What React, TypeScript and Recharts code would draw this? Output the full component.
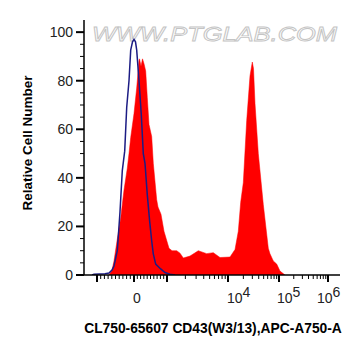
import React from "react";
import { ComposedChart, Area, Line, XAxis, YAxis } from "recharts";

// Red filled histogram: sample (CD43 stained), x in display channels, y = % of max
const sampleChannel = [25, 28, 30, 33, 36.7, 40, 43.3, 45, 46.7, 50, 52.7, 55, 55.5, 57, 58.5, 60, 61.7, 63.3, 65, 67.7, 69.3, 72.7, 74, 77, 80, 85, 88, 92.7, 96, 99.3, 106, 114.3, 122.7, 129.3, 136, 146, 151, 154.3, 156.7, 159.3, 162.7, 166, 168.3, 169.5, 171, 174.3, 179.3, 184.3, 186, 189.3, 192.7, 196, 201];
const sampleCount = [0, 2, 5.8, 14, 23.5, 35, 44, 50, 56.6, 66.5, 77, 88.4, 89, 86, 89, 87, 84, 73, 62, 57, 46, 31, 28, 25, 18, 11, 10, 10, 9, 7, 7.8, 10, 8.8, 9.2, 7.2, 7.4, 10.5, 18, 30, 38, 63.6, 82, 87.7, 85, 70.6, 50, 29, 11, 8.7, 5.8, 4.5, 1.6, 0];

// Blue line: isotype / unstained control
const controlChannel = [8, 10, 21, 25, 28, 30, 33.3, 36, 38.3, 40.7, 42.7, 45, 46.7, 48.5, 50, 51.5, 52.7, 55, 57.3, 59.3, 61, 63.3, 65.7, 67.7, 69.3, 71.7, 76.7, 81, 86, 91];
const controlCount = [0, 0.3, 0.5, 0.8, 2, 3.7, 10, 26, 43, 51, 69, 80, 92.6, 96, 97, 96, 92.6, 80, 66, 50, 46, 33, 22, 14, 8.7, 4.5, 2.5, 1, 0.3, 0];

// Biexponential axis: decade values, their display channels and exponent labels
const axisValues = [-1000, 0, 1000, 10000, 100000, 1000000];
const axisChannels = [13, 50, 83, 144, 195, 244];
const axisLabels = ["", "0", "", "4", "5", "6"];

// Y axis ticks
const yMajorTicks = [0, 20, 40, 60, 80, 100];
const yMinorStep = 5;

const sampleData = sampleChannel.map((ch, i) => ({ ch, count: sampleCount[i] }));
const controlData = controlChannel.map((ch, i) => ({ ch, count: controlCount[i] }));

type TickInfo = { ch: number; major: boolean; label: string; idx: number };
const xTickInfo: TickInfo[] = [];
for (let i = 0; i < axisValues.length; i++) {
  xTickInfo.push({ ch: axisChannels[i], major: true, label: axisLabels[i], idx: i });
  if (i < axisValues.length - 1) {
    const a = axisChannels[i];
    const b = axisChannels[i + 1];
    const linear = Math.abs(axisValues[i]) <= 1000 && Math.abs(axisValues[i + 1]) <= 1000;
    for (let m = 1; m <= 9; m++) {
      const frac = linear ? m / 10 : m >= 2 ? Math.log10(m) : -1;
      if (frac < 0) continue;
      xTickInfo.push({ ch: a + (b - a) * frac, major: false, label: "", idx: -1 });
    }
  }
}
const xTicks = xTickInfo.map((t) => t.ch);

const yTicks: number[] = [];
for (let v = 0; v <= 100; v += yMinorStep) yTicks.push(v);

const FONT = "'Liberation Sans', Arial, sans-serif";

function XTick(props: any) {
  const { x, y, payload } = props;
  const info = xTickInfo.find((t) => Math.abs(t.ch - payload.value) < 1e-6);
  if (!info) return null;
  const len = info.major ? 7 : 4;
  let label: React.ReactNode = null;
  if (info.label === "0") {
    label = (
      <text x={x + 3} y={y + 28} textAnchor="middle" fontSize={14} fontFamily={FONT} fill="#222">
        0
      </text>
    );
  } else if (info.label) {
    const shift = info.idx === axisValues.length - 1 ? -11 : info.idx === 4 ? -2 : -1;
    label = (
      <text x={x + shift} y={y + 28} textAnchor="start" fontSize={14} fontFamily={FONT} fill="#222">
        10
        <tspan dy={-6}>{info.label}</tspan>
      </text>
    );
  }
  return (
    <g>
      <line x1={x} x2={x} y1={y} y2={y + len} stroke="#000" strokeWidth={info.major ? 2 : 1} />
      {label}
    </g>
  );
}

function YTick(props: any) {
  const { x, y, payload } = props;
  const major = yMajorTicks.includes(payload.value);
  return (
    <g>
      <line x1={x - (major ? 8 : 4)} x2={x} y1={y} y2={y} stroke="#000" strokeWidth={major ? 2 : 1} />
      {major ? (
        <text x={x - 11} y={y + 5} textAnchor="end" fontSize={14} fontFamily={FONT} fill="#222">
          {payload.value}
        </text>
      ) : null}
    </g>
  );
}

export default function App() {
  return (
    <div style={{ position: "absolute", left: 0, top: 0, width: 364, height: 356, background: "#fff" }}>
      <svg width={364} height={356} style={{ position: "absolute", left: 0, top: 0 }}>
        <text
          x={92}
          y={41}
          fontSize={21}
          fontFamily={FONT}
          fontStyle="italic"
          textLength={245}
          lengthAdjust="spacingAndGlyphs"
          fill="#ffffff"
          stroke="#c4c4c4"
          strokeWidth={0.9}
        >
          WWW.PTGLAB.COM
        </text>
      </svg>
      <div style={{ position: "absolute", left: 0, top: 0 }}>
        <ComposedChart width={364} height={356} margin={{ top: 20, right: 24, left: 0, bottom: 0 }}>
          <XAxis
            xAxisId="b"
            type="number"
            dataKey="ch"
            domain={[0, 256]}
            allowDataOverflow
            ticks={xTicks}
            interval={0}
            tick={<XTick />}
            tickSize={0}
            tickMargin={0}
            tickLine={false}
            height={81}
            axisLine={{ stroke: "#000", strokeWidth: 1.5 }}
          />
          <XAxis
            xAxisId="t"
            orientation="top"
            type="number"
            domain={[0, 256]}
            tick={false}
            tickLine={false}
            height={0}
            axisLine={{ stroke: "#000", strokeWidth: 1.5 }}
          />
          <YAxis
            yAxisId="l"
            type="number"
            domain={[0, 105]}
            allowDataOverflow
            ticks={yTicks}
            interval={0}
            tick={<YTick />}
            tickSize={0}
            tickMargin={0}
            tickLine={false}
            width={84}
            axisLine={{ stroke: "#000", strokeWidth: 1.5 }}
          />
          <YAxis
            yAxisId="r"
            orientation="right"
            type="number"
            domain={[0, 105]}
            tick={false}
            tickLine={false}
            width={0}
            axisLine={{ stroke: "#000", strokeWidth: 1.5 }}
          />
          <Area
            xAxisId="b"
            yAxisId="l"
            data={sampleData}
            dataKey="count"
            type="linear"
            fill="#ff0000"
            fillOpacity={1}
            stroke="#ff0000"
            strokeWidth={0.5}
            isAnimationActive={false}
            dot={false}
            activeDot={false}
          />
          <Line
            xAxisId="b"
            yAxisId="l"
            data={controlData}
            dataKey="count"
            type="linear"
            stroke="#1c1c84"
            strokeWidth={1.5}
            dot={false}
            activeDot={false}
            isAnimationActive={false}
          />
        </ComposedChart>
      </div>
      <svg width={364} height={356} style={{ position: "absolute", left: 0, top: 0, pointerEvents: "none" }}>
        <text
          transform="translate(31.5,143) rotate(-90)"
          textAnchor="middle"
          fontSize={13.5}
          fontWeight="bold"
          fontFamily={FONT}
          fill="#000"
        >
          Relative Cell Number
        </text>
        <text x={213} y={333} textAnchor="middle" fontSize={13.8} fontWeight="bold" fontFamily={FONT} fill="#000">
          CL750-65607 CD43(W3/13),APC-A750-A
        </text>
      </svg>
    </div>
  );
}
